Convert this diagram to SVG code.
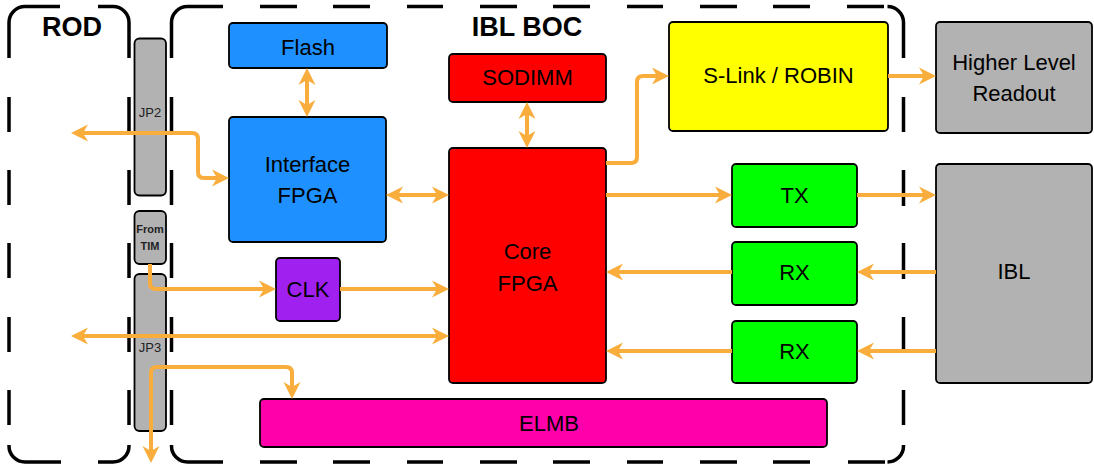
<svg xmlns="http://www.w3.org/2000/svg" width="1094" height="466" viewBox="0 0 1094 466">
<style>
.frame{fill:none;stroke:#000;stroke-width:3.5;stroke-linecap:butt}
.box{stroke:#000;stroke-width:1.8}
.lbl{font-family:"Liberation Sans",Arial,sans-serif;font-size:22px;fill:#000;text-anchor:middle}
.title{font-family:"Liberation Sans",Arial,sans-serif;font-size:27px;font-weight:bold;fill:#000;text-anchor:middle}
.small{font-family:"Liberation Sans",Arial,sans-serif;font-size:13px;fill:#222;text-anchor:middle}
.tiny{font-family:"Liberation Sans",Arial,sans-serif;font-size:11px;font-weight:bold;fill:#222;text-anchor:middle}
.con{fill:none;stroke:#f8ad3c;stroke-width:4;stroke-linejoin:round}
.gray{fill:#b2b2b2}
.blue{fill:#1e90ff}
.red{fill:#ff0000}
.green{fill:#00ff00}
</style>
<defs>
<marker id="ah" viewBox="-10 -10 20 20" markerWidth="20" markerHeight="20" refX="0" refY="0" orient="auto-start-reverse" markerUnits="userSpaceOnUse">
<path d="M8,0 L-9,-8.5 L-4,0 L-9,8.5 Z" fill="#f8ad3c"/>
</marker>
</defs>

<g id="frame-rod">
<path class="frame" d="M9,58 V22.5 A16,16 0 0 1 25,6.5 H60 M98,6.5 H113 A16,16 0 0 1 129,22.5 V58 M9,97V132 M9,170V205 M9,243V278 M9,317V352 M9,390V425 M129,97V132 M129,170V205 M129,243V278 M129,317V352 M129,390V425 M9,445 V446 A16,16 0 0 0 25,462 H61 M98,462 H113 A16,16 0 0 0 129,446 V445"/>
<text class="title" x="72" y="36">ROD</text>
</g>

<g id="frame-boc">
<path class="frame" d="M171.5,58 V22.5 A16,16 0 0 1 187.5,6.5 H223 M260,6.5H297 M333,6.5H370 M407,6.5H443 M480,6.5H517 M553,6.5H590 M627,6.5H663 M700,6.5H737 M773,6.5H810 M847,6.5H884 M887.5,6.5 A16,16 0 0 1 903.5,22.5 V58 M171.5,97V132 M171.5,170V205 M171.5,243V278 M171.5,317V352 M171.5,390V425 M903.5,97V132 M903.5,170V206 M903.5,243V279 M903.5,317V353 M903.5,390V425 M171.5,445 V446 A16,16 0 0 0 187.5,462 H223 M260,462H297 M333,462H370 M407,462H443 M480,462H517 M553,462H590 M627,462H663 M700,462H737 M773,462H810 M848,462H885 M887.5,462 A16,16 0 0 0 903.5,446 V445"/>
<text class="title" x="527" y="36">IBL BOC</text>
</g>

<g id="jp2"><rect class="box gray" x="134.5" y="38.5" width="31.5" height="157" rx="5"/><text class="small" x="150" y="117">JP2</text></g>
<g id="fromtim"><rect class="box gray" x="134.5" y="211" width="31.5" height="53" rx="5"/><text class="tiny" x="150" y="233">From</text><text class="tiny" x="150" y="250">TIM</text></g>
<g id="jp3"><rect class="box gray" x="134.5" y="274" width="31.5" height="157" rx="5"/><text class="small" x="150" y="352">JP3</text></g>

<g id="flash"><rect class="box blue" x="229" y="23" width="158" height="45" rx="4"/><text class="lbl" x="308" y="55">Flash</text></g>
<g id="interface"><rect class="box blue" x="229" y="117" width="157" height="125" rx="4"/><text class="lbl" x="307.5" y="172">Interface</text><text class="lbl" x="307.5" y="203">FPGA</text></g>
<g id="sodimm"><rect class="box red" x="449" y="54" width="157" height="48" rx="4"/><text class="lbl" x="527.5" y="85">SODIMM</text></g>
<g id="core"><rect class="box red" x="449" y="148" width="157" height="235" rx="4"/><text class="lbl" x="527.5" y="259">Core</text><text class="lbl" x="527.5" y="291">FPGA</text></g>
<g id="slink"><rect class="box" fill="#ffff00" x="669" y="22" width="219" height="109" rx="4"/><text class="lbl" x="778.5" y="83">S-Link / ROBIN</text></g>
<g id="hlr"><rect class="box gray" x="936" y="22" width="156" height="111" rx="4"/><text class="lbl" x="1014" y="70">Higher Level</text><text class="lbl" x="1014" y="101">Readout</text></g>
<g id="tx"><rect class="box green" x="732" y="164" width="125" height="63" rx="4"/><text class="lbl" x="794.5" y="203">TX</text></g>
<g id="rx1"><rect class="box green" x="732" y="242" width="125" height="63" rx="4"/><text class="lbl" x="794.5" y="280">RX</text></g>
<g id="rx2"><rect class="box green" x="732" y="321" width="125" height="62" rx="4"/><text class="lbl" x="794.5" y="359">RX</text></g>
<g id="ibl"><rect class="box gray" x="936" y="164" width="156" height="219" rx="4"/><text class="lbl" x="1014" y="279">IBL</text></g>
<g id="clk"><rect class="box" fill="#a020f0" x="276" y="258" width="64" height="63" rx="4"/><text class="lbl" x="308" y="297">CLK</text></g>
<g id="elmb"><rect class="box" fill="#ff00aa" x="260" y="399" width="567" height="48" rx="4"/><text class="lbl" x="549" y="431">ELMB</text></g>

<g id="connectors">
<path class="con" d="M79,133 H192 Q198,133 198,139 V172 Q198,178 204,178 H221" marker-start="url(#ah)" marker-end="url(#ah)"/>
<path class="con" d="M307,76 V109" marker-start="url(#ah)" marker-end="url(#ah)"/>
<path class="con" d="M394,195 H441" marker-start="url(#ah)" marker-end="url(#ah)"/>
<path class="con" d="M527,110 V140" marker-start="url(#ah)" marker-end="url(#ah)"/>
<path class="con" d="M606,163 H631 Q637,163 637,157 V82 Q637,76 643,76 H661" marker-end="url(#ah)"/>
<path class="con" d="M888,76 H928" marker-end="url(#ah)"/>
<path class="con" d="M606,195 H724" marker-end="url(#ah)"/>
<path class="con" d="M857,195 H928" marker-end="url(#ah)"/>
<path class="con" d="M936,272 H865" marker-end="url(#ah)"/>
<path class="con" d="M732,272 H614" marker-end="url(#ah)"/>
<path class="con" d="M936,351 H865" marker-end="url(#ah)"/>
<path class="con" d="M732,351 H614" marker-end="url(#ah)"/>
<path class="con" d="M150,264 V283 Q150,289 156,289 H268" marker-end="url(#ah)"/>
<path class="con" d="M340,289 H441" marker-end="url(#ah)"/>
<path class="con" d="M79,336 H441" marker-start="url(#ah)" marker-end="url(#ah)"/>
<path class="con" d="M151,455 V373 Q151,367 157,367 H286 Q292,367 292,373 V391" marker-start="url(#ah)" marker-end="url(#ah)"/>
</g>
</svg>
